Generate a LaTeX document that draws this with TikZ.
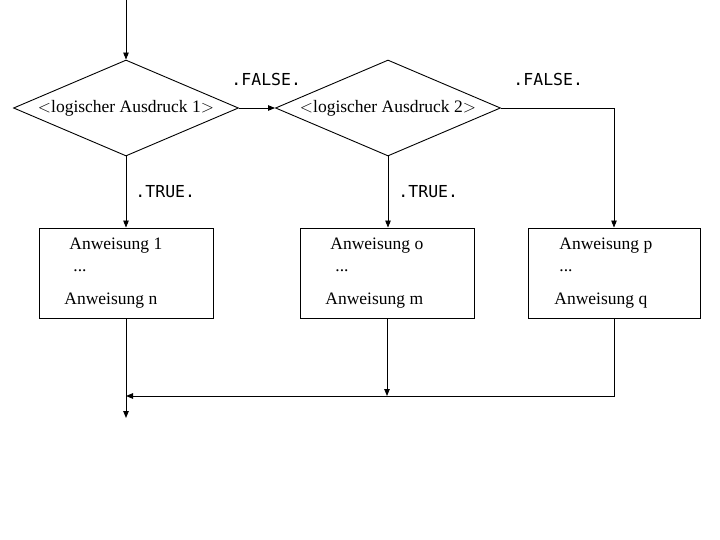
\documentclass[tikz,border=0pt]{standalone}
\usepackage{fontspec}
\setmainfont{Liberation Serif}
\newfontfamily\labelfont{DejaVu Sans Mono}
\usetikzlibrary{shapes.geometric,arrows.meta}

\begin{document}
\begin{tikzpicture}[x=1pt,y=-1pt,line width=0.9pt,>={Triangle[length=7pt,width=5.5pt]},
	font=\fontsize{17.5}{20}\selectfont,
	cond/.style={draw,diamond,aspect=2.34,inner sep=0pt,minimum width=225pt,minimum height=96pt},
	stmt/.style={draw,rectangle,minimum width=174pt,minimum height=90pt},
	txt/.style={anchor=base west,inner sep=0pt},
	lbl/.style={anchor=base west,inner sep=0pt,font=\labelfont\fontsize{16.5}{18}\selectfont}]
	\useasboundingbox (0,0) rectangle (720,540);

	%conditions
	\node[cond] (d1) at (126,108) {$<$logischer Ausdruck 1$>$};
	\node[cond] (d2) at (388,108) {$<$logischer Ausdruck 2$>$};

	%statement boxes
	\node[stmt] (b1) at (126,273) {};
	\node[stmt] (b2) at (387,273) {};
	\node[stmt,minimum width=172pt] (b3) at (614,273) {};

	%box texts
	\node[txt] (t1a) at (69,249) {Anweisung 1};
	\node[txt] (t1b) at (73,271) {...};
	\node[txt] (t1c) at (64,304) {Anweisung n};
	\node[txt] (t2a) at (330,249) {Anweisung o};
	\node[txt] (t2b) at (335,271) {...};
	\node[txt] (t2c) at (325,304) {Anweisung m};
	\node[txt] (t3a) at (559,249) {Anweisung p};
	\node[txt] (t3b) at (559,271) {...};
	\node[txt] (t3c) at (554,304) {Anweisung q};

	%branch labels
	\node[lbl] (f1) at (231,86) {.FALSE.};
	\node[lbl] (f2) at (513,86) {.FALSE.};
	\node[lbl] (w1) at (135,198) {.TRUE.};
	\node[lbl] (w2) at (398,198) {.TRUE.};

	%helper points
	\coordinate (in) at (126,0);
	\coordinate (join) at (126,396);
	\coordinate (out) at (126,418);

	%arrows
	\draw[->] (in) -- (d1.north); %entry
	\draw[->] (d1.east) -- (d2.west); %false 1
	\draw[->] (d1.south) -- (b1.north); %true 1
	\draw[->] (d2.south) -- (d2.south |- b2.north); %true 2
	\draw[->] (d2.east) -| (b3.north); %false 2
	\draw[->] (b1.south) -- (out); %exit
	\draw[->] (b2.south) -- (b2.south |- join); %merge 2
	\draw[->] (b3.south) |- (join); %merge 3
\end{tikzpicture}
\end{document}
